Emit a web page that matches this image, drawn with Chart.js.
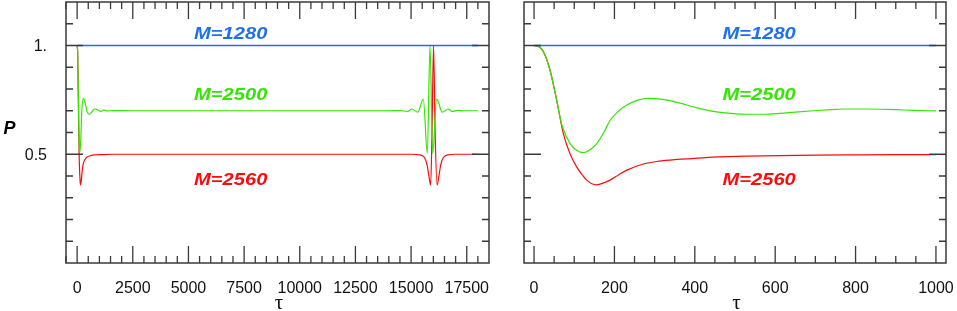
<!DOCTYPE html>
<html>
<head>
<meta charset="utf-8">
<script src="https://cdn.jsdelivr.net/npm/chart.js@4/dist/chart.umd.min.js"></script>
<style>
  html, body { margin: 0; padding: 0; background: #ffffff; }
  body { width: 957px; height: 311px; position: relative; overflow: hidden; }
  canvas { position: absolute; top: 0; }
  #cL { left: 0; }
  #cR { left: 495px; }
</style>
</head>
<body>
<canvas id="cL" width="495" height="311"></canvas>
<canvas id="cR" width="462" height="311"></canvas>
<script>
// ---------------- DATA ----------------
// Left panel: long time scale
const leftBlueTau = [0, 2000, 6000, 10000, 14000, 18000];
const leftBlueP   = [1.0, 1.0, 1.0, 1.0, 1.0, 1.0];

const leftGreenTau = [0, 25, 55, 90, 123, 160, 210, 284, 363, 446, 529, 612, 695, 778, 861, 944, 1080, 1200, 1350, 1600,
  2500, 5000, 8000, 11000, 14000, 14500, 14850, 15030, 15300, 15549, 15730, 15850, 15970, 16150, 16400, 16670, 16850, 17100, 17400, 18000];
const leftGreenP = [1.0, 0.965, 0.76, 0.548, 0.508, 0.56, 0.698, 0.757, 0.735, 0.697, 0.684, 0.688, 0.700, 0.708, 0.707, 0.702, 0.697, 0.704, 0.699, 0.701,
  0.700, 0.700, 0.700, 0.700, 0.700, 0.701, 0.697, 0.708, 0.693, 0.754, 0.503, 1.0, 0.503, 0.755, 0.693, 0.708, 0.697, 0.702, 0.700, 0.700];

const leftRedTau = [0, 25, 55, 90, 131, 154, 189, 231, 272, 355, 446, 612, 778, 1000, 1600, 5000, 10000, 15000, 15400, 15600, 15720, 15800, 15880,
  15940, 16010, 16080, 16170, 16250, 16330, 16450, 16650, 17000, 18000];
const leftRedP = [1.0, 0.965, 0.76, 0.50, 0.381, 0.359, 0.381, 0.427, 0.455, 0.476, 0.487, 0.494, 0.497, 0.498, 0.500, 0.500, 0.500, 0.500, 0.497, 0.485, 0.45, 0.40, 0.358,
  0.60, 1.0, 0.60, 0.358, 0.40, 0.45, 0.485, 0.497, 0.500, 0.500];

// Right panel: short time scale
const rightBlueTau = [0, 200, 400, 600, 800, 1000];
const rightBlueP   = [1.0, 1.0, 1.0, 1.0, 1.0, 1.0];

const rightGreenTau = [0, 10, 25, 40, 55, 70, 90, 105, 123, 140, 156, 175, 189, 210, 230, 260, 284, 320, 363, 400, 446, 490, 529, 570, 612, 650, 695, 740, 778, 820, 861, 900, 944, 1000];
const rightGreenP   = [1.0, 0.997, 0.965, 0.885, 0.76, 0.63, 0.548, 0.52, 0.508, 0.522, 0.549, 0.605, 0.655, 0.698, 0.725, 0.750, 0.757, 0.752, 0.735, 0.716, 0.697, 0.688, 0.684, 0.684, 0.688, 0.694, 0.700, 0.705, 0.708, 0.708, 0.707, 0.705, 0.702, 0.699];

const rightRedTau = [0, 10, 25, 40, 55, 73, 90, 106, 120, 131, 154, 170, 189, 210, 231, 272, 310, 355, 400, 446, 530, 612, 700, 778, 900, 1000];
const rightRedP   = [1.0, 0.997, 0.965, 0.885, 0.76, 0.594, 0.50, 0.442, 0.405, 0.381, 0.359, 0.366, 0.381, 0.405, 0.427, 0.455, 0.468, 0.476, 0.481, 0.487, 0.491, 0.494, 0.496, 0.497, 0.498, 0.498];

// Tick values / labels
const leftXMajor  = [0, 2500, 5000, 7500, 10000, 12500, 15000, 17500];
const leftXMinor  = [-500, 500, 1000, 1500, 2000, 3000, 3500, 4000, 4500, 5500, 6000, 6500, 7000, 8000, 8500, 9000, 9500,
  10500, 11000, 11500, 12000, 13000, 13500, 14000, 14500, 15500, 16000, 16500, 17000, 18000];
const rightXMajor = [0, 200, 400, 600, 800, 1000];
const rightXMinor = [50, 100, 150, 250, 300, 350, 450, 500, 550, 650, 700, 750, 850, 900, 950];
const yMajor      = [0.5, 1.0];
const yTickLabels = ['0.5', '1.'];
const yMinor      = [0.1, 0.2, 0.3, 0.4, 0.6, 0.7, 0.8, 0.9, 1.1];

const seriesNames  = ['M=1280', 'M=2500', 'M=2560'];
const seriesColors = ['#1f6ff2', '#33e600', '#ff0a0a'];
const xTitle = 'τ';
const yTitle = 'P';

// ---------------- helpers ----------------
const pts = (xs, ys) => xs.map((x, i) => ({ x: x, y: ys[i] }));
const SANS = '"Liberation Sans", Arial, sans-serif';

const framePlugin = {
  id: 'frame',
  afterDatasetsDraw(chart, args, o) {
    const { ctx, chartArea: a, scales } = chart;
    const sx = scales.x, sy = scales.y;
    ctx.save();
    ctx.strokeStyle = '#3a3a3a';
    ctx.lineWidth = 1.3;
    ctx.beginPath();
    const xt = (v, len) => {
      const p = sx.getPixelForValue(v);
      ctx.moveTo(p, a.bottom); ctx.lineTo(p, a.bottom - len);
      ctx.moveTo(p, a.top); ctx.lineTo(p, a.top + len);
    };
    const yt = (v, len) => {
      const p = sy.getPixelForValue(v);
      ctx.moveTo(a.left, p); ctx.lineTo(a.left + len, p);
      ctx.moveTo(a.right, p); ctx.lineTo(a.right - len, p);
    };
    o.xMajor.forEach(v => xt(v, 17));
    o.xMinor.forEach(v => xt(v, 7));
    o.yMajor.forEach(v => yt(v, 17));
    o.yMinor.forEach(v => yt(v, 7));
    ctx.stroke();
    ctx.lineWidth = 1.5;
    ctx.strokeRect(a.left, a.top, a.right - a.left, a.bottom - a.top);

    // tick labels (x)
    ctx.fillStyle = '#111';
    ctx.font = '16px ' + SANS;
    ctx.textAlign = 'center';
    ctx.textBaseline = 'alphabetic';
    o.xMajor.forEach(v => ctx.fillText(String(v), sx.getPixelForValue(v), 293.3));
    // tick labels (y)
    if (o.yLabels) {
      ctx.textAlign = 'right';
      o.yMajor.forEach((v, i) => ctx.fillText(yTickLabels[i], a.left - 19, sy.getPixelForValue(v) + 5.7));
    }
    // x title
    ctx.font = '21px "Liberation Serif", "DejaVu Serif", serif';
    ctx.textAlign = 'center';
    ctx.fillText(xTitle, (a.left + a.right) / 2 + 1.5, 309);
    // y title
    if (o.yTitle) {
      ctx.font = 'italic bold 18px ' + SANS;
      ctx.fillStyle = '#000';
      ctx.fillText(yTitle, 9.5, 134);
    }
    ctx.restore();
  }
};

const labelPlugin = {
  id: 'mlabels',
  afterDatasetsDraw(chart, args, o) {
    const { ctx, scales } = chart;
    (o.items || []).forEach(it => {
      const px = scales.x.getPixelForValue(it.x);
      const py = scales.y.getPixelForValue(it.y);
      ctx.save();
      ctx.translate(px, py + 5.9);
      ctx.scale(1.22, 1);
      ctx.font = 'italic bold 16.5px ' + SANS;
      ctx.fillStyle = it.color;
      ctx.textAlign = 'center';
      ctx.textBaseline = 'alphabetic';
      ctx.fillText(it.text, 0, 0);
      ctx.restore();
    });
  }
};

function ds(xs, ys, color, w) {
  return {
    data: pts(xs, ys),
    borderColor: color,
    borderWidth: w || 1.2,
    pointRadius: 0,
    fill: false,
    cubicInterpolationMode: 'monotone'
  };
}

function makeChart(id, cfg) {
  return new Chart(document.getElementById(id), {
    type: 'line',
    data: { datasets: cfg.datasets },
    options: {
      responsive: false,
      maintainAspectRatio: false,
      animation: false,
      devicePixelRatio: 1,
      layout: { padding: cfg.padding },
      plugins: {
        legend: { display: false },
        tooltip: { enabled: false },
        frame: { xMajor: cfg.xMajor, xMinor: cfg.xMinor, yMajor: yMajor, yMinor: yMinor, yLabels: cfg.yLabels, yTitle: cfg.yTitle },
        mlabels: { items: cfg.items }
      },
      scales: {
        x: {
          type: 'linear',
          min: cfg.xMin, max: cfg.xMax,
          grid: { display: false },
          border: { display: false },
          afterBuildTicks: s => { s.ticks = cfg.xMajor.map(v => ({ value: v })); },
          afterFit: s => { s.height = 48; s.paddingLeft = 0; s.paddingRight = 0; },
          ticks: { display: false }
        },
        y: {
          type: 'linear',
          min: 0, max: 1.2,
          grid: { display: false },
          border: { display: false },
          afterBuildTicks: s => { s.ticks = yMajor.map(v => ({ value: v })); },
          afterFit: s => { s.width = cfg.yWidth; s.paddingTop = 0; s.paddingBottom = 0; },
          ticks: { display: false }
        }
      }
    },
    plugins: [framePlugin, labelPlugin]
  });
}

makeChart('cL', {
  datasets: [
    ds(leftBlueTau, leftBlueP, seriesColors[0], 1.3),
    ds(leftGreenTau, leftGreenP, seriesColors[1]),
    ds(leftRedTau, leftRedP, seriesColors[2])
  ],
  padding: { left: 0, top: 2, right: 6, bottom: 0 },
  xMin: -500, xMax: 18500,
  xMajor: leftXMajor, xMinor: leftXMinor,
  yWidth: 66, yLabels: true, yTitle: true,
  items: [
    { text: seriesNames[0], color: seriesColors[0], x: 6900, y: 1.058 },
    { text: seriesNames[1], color: seriesColors[1], x: 6900, y: 0.776 },
    { text: seriesNames[2], color: seriesColors[2], x: 6900, y: 0.384 }
  ]
});

makeChart('cR', {
  datasets: [
    ds(rightBlueTau, rightBlueP, seriesColors[0], 1.3),
    ds(rightGreenTau, rightGreenP, seriesColors[1]),
    ds(rightRedTau, rightRedP, seriesColors[2])
  ],
  padding: { left: 0, top: 2, right: 11, bottom: 0 },
  xMin: -25, xMax: 1025,
  xMajor: rightXMajor, xMinor: rightXMinor,
  yWidth: 29, yLabels: false, yTitle: false,
  items: [
    { text: seriesNames[0], color: seriesColors[0], x: 560, y: 1.058 },
    { text: seriesNames[1], color: seriesColors[1], x: 560, y: 0.776 },
    { text: seriesNames[2], color: seriesColors[2], x: 560, y: 0.384 }
  ]
});
</script>
</body>
</html>
